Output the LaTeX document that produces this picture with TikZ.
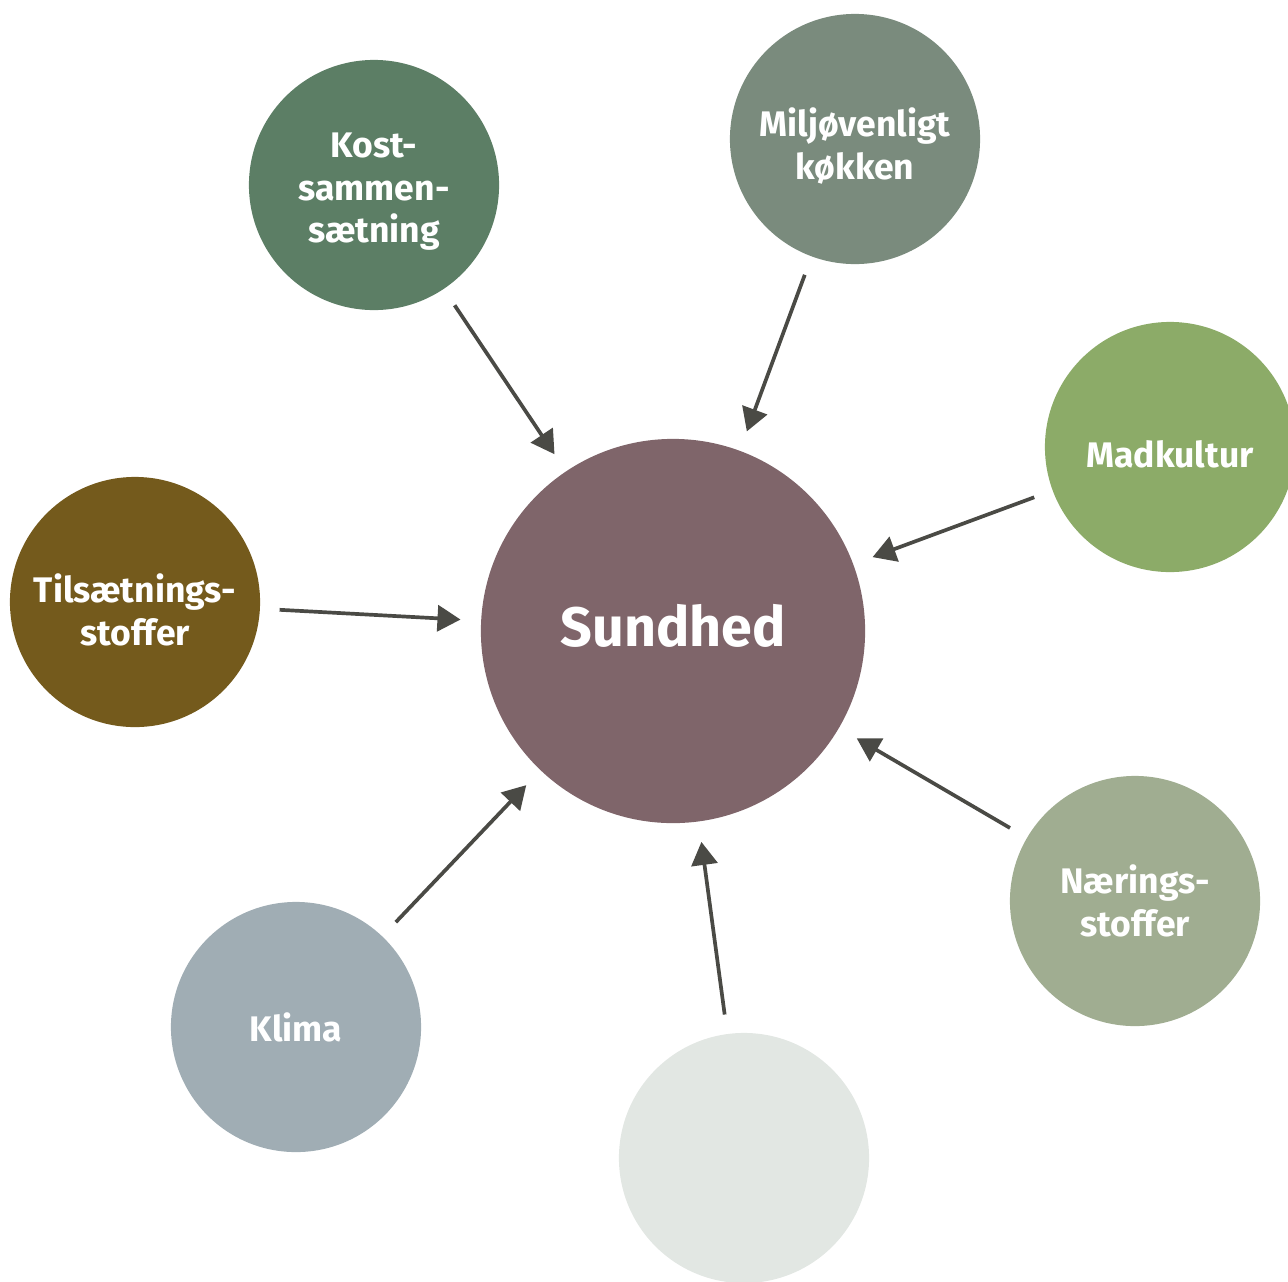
\documentclass[tikz,border=0pt]{standalone}
\usepackage{fontspec}
\setmainfont{Fira Sans}
\usetikzlibrary{arrows.meta}

\definecolor{sundfarve}{HTML}{7F656A}
\definecolor{kostfarve}{HTML}{5C7E65}
\definecolor{miljfarve}{HTML}{7A8B7D}
\definecolor{madfarve}{HTML}{8CAB68}
\definecolor{tilsfarve}{HTML}{745A1C}
\definecolor{naerfarve}{HTML}{A0AD91}
\definecolor{tomfarve}{HTML}{E2E7E3}
\definecolor{klimfarve}{HTML}{A0ADB4}
\definecolor{pilfarve}{HTML}{4A4A45}

\begin{document}
\begin{tikzpicture}[x=0.01cm, y=-0.01cm,
		boble/.style={circle, inner sep=0, minimum size=2.5cm},
		tekst/.style={text=white, align=center, inner sep=0,
			font=\bfseries\fontsize{10.1}{12.1}\selectfont},
		pil/.style={draw=pilfarve, line width=1.05pt, -{Triangle[length=0.23cm, width=0.26cm]},
			shorten <=0.19cm, shorten >=0.2cm}]
		\path[use as bounding box, clip] (0, 0) rectangle (1288, 1281);
		\node[boble, fill=sundfarve, minimum size=3.84cm,
			label={[tekst, yshift=0.05cm, font=\bfseries\fontsize{15.8}{19}\selectfont]center:Sundhed}] (sund) at (673, 631) {};
		\node[boble, fill=kostfarve, label={[tekst, yshift=-0.07cm]center:{Kost-\\sammen-\\sætning}}] (kost) at (374, 185) {};
		\node[boble, fill=miljfarve, label={[tekst, yshift=-0.07cm]center:{Miljøvenligt\\køkken}}] (milj) at (855, 139) {};
		\node[boble, fill=madfarve, label={[tekst, yshift=-0.07cm]center:Madkultur}] (mad) at (1170, 447) {};
		\node[boble, fill=tilsfarve, label={[tekst, yshift=-0.08cm]center:{Tilsætnings-\\stoffer}}] (tils) at (135, 602) {};
		\node[boble, fill=naerfarve, label={[tekst]center:{Nærings-\\stoffer}}] (naer) at (1135, 901) {};
		\node[boble, fill=tomfarve] (tom) at (744, 1158) {};
		\node[boble, fill=klimfarve, label={[tekst]center:Klima}] (klim) at (296, 1027) {};
		\foreach \n in {kost, milj, mad, tils, naer, tom, klim} {
			\draw[pil] (\n) -- (sund);
		}
	\end{tikzpicture}
\end{document}
